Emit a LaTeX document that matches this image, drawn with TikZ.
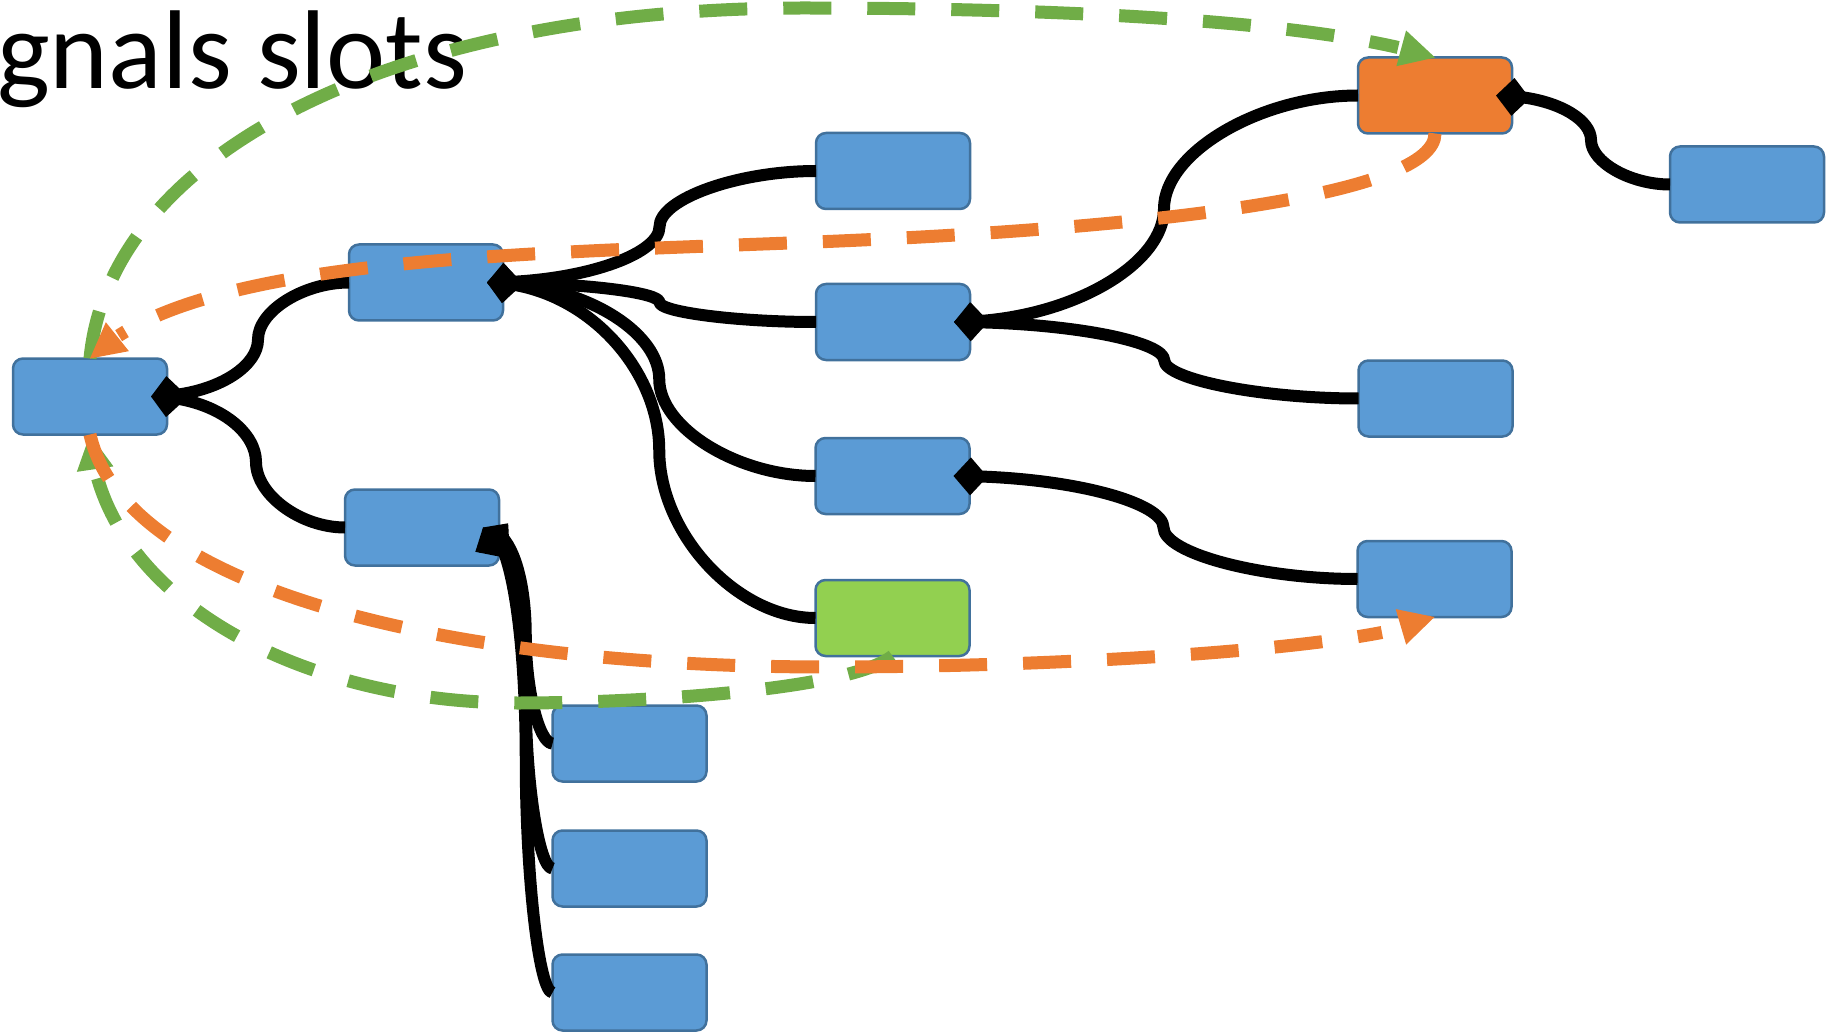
\documentclass[tikz,border=0pt]{standalone}
\usepackage{fontspec}
\setmainfont{Carlito}
\usetikzlibrary{arrows.meta,bending,calc}

\definecolor{boxblue}{RGB}{91,155,213}
\definecolor{boxedge}{RGB}{65,113,156}
\definecolor{slotorange}{RGB}{237,125,49}
\definecolor{leafgreen}{RGB}{146,208,80}
\definecolor{signalgreen}{RGB}{112,173,71}

\tikzset{
  box/.style={draw=boxedge, line width=2.5pt, rounded corners=10pt,
    minimum width=154pt, minimum height=76pt, inner sep=0pt, outer sep=0pt,
    fill=boxblue},
  slotbox/.style={box, fill=slotorange},
  leafbox/.style={box, fill=leafgreen},
  % parent-to-child link with a diamond centred on the parent's edge
  link/.style={line width=12pt, line join=round,
    {Diamond[length=34pt,width=38pt,line width=0pt]}-},
  % S-shaped elbow measured from the parent's edge (16pt right of the start):
  % horizontal out, vertical in the middle, horizontal in
  elbow/.style={to path={let \p1=($(\tikztostart)+(16pt,0)$), \p2=(\tikztotarget) in
     .. controls ({\x1+0.25*(\x2-\x1)},\y1) and ({0.5*(\x1+\x2)},{\y1+0.25*(\y2-\y1)})
     .. ({0.5*(\x1+\x2)},{0.5*(\y1+\y2)})
     .. controls ({0.5*(\x1+\x2)},{\y1+0.75*(\y2-\y1)}) and ({\x1+0.75*(\x2-\x1)},\y2)
     .. (\tikztotarget)}},
  flow/.style={line width=13pt, dash pattern=on 48pt off 36pt,
    -{Triangle[length=35pt,width=37pt,line width=0pt]}},
  signal/.style={flow, draw=signalgreen},
  slot/.style={flow, draw=slotorange},
}

\begin{document}
\begin{tikzpicture}[x=1pt,y=-1pt]
\useasboundingbox (0,0) rectangle (1826,1032);

% heading
\node[anchor=base west, inner sep=0pt, font=\fontsize{112}{130}\selectfont]
  (title) at (-3,89) {gnals slots};

% objects
\node[box]      (A)  at (90,396.5)   {};
\node[box]      (B)  at (426,282.5)  {};
\node[box]      (C)  at (422,527.5)  {};
\node[box]      (D1) at (893,171)    {};
\node[box]      (D2) at (893,322)    {};
\node[box]      (D3) at (892.5,476)  {};
\node[leafbox]  (G)  at (892.5,618)  {};
\node[slotbox]  (E)  at (1435,95.5)  {};
\node[box]      (F)  at (1747,184.5) {};
\node[box]      (H1) at (1435.5,398.5) {};
\node[box]      (H2) at (1434.5,579) {};
\node[box]      (K1) at (629.5,743.5) {};
\node[box]      (K2) at (629.5,868.5) {};
\node[box]      (K3) at (629.5,992.5) {};

% ownership tree
\draw[link] ([xshift=-16pt]A.east) to[elbow] (B.west);
\draw[link] ([xshift=-16pt]A.east) to[elbow] (C.west);
\draw[link] ([xshift=-16pt]B.east) to[elbow] (D1.west);
\draw[link] ([xshift=-16pt]B.east) to[elbow] (D2.west);
\draw[link] ([xshift=-16pt]B.east) to[elbow] (D3.west);
\draw[link] ([xshift=-16pt]B.east) to[elbow] (G.west);
\draw[link] ([xshift=-16pt]D2.east) to[elbow] (E.west);
\draw[link] ([xshift=-16pt]D2.east) to[elbow] (H1.west);
\draw[link] ([xshift=-16pt]D3.east) to[elbow] (H2.west);
\draw[link] ([xshift=-16pt]E.east) to[elbow] (F.west);
\draw[link] ([xshift=-16pt]C.east) to[elbow] (K1.west);
\draw[link] ([xshift=-16pt]C.east) to[elbow] (K2.west);
\draw[link] ([xshift=-16pt]C.east) to[elbow] (K3.west);

% signal routes
\coordinate (gtop) at (803,8);
\coordinate (gbot) at (518,703);
\draw[signal] (A.north) .. controls (110,150) and (400,8) .. (gtop)
  .. controls (1050,8) and (1320,20) .. (E.north);
\draw[signal] (G.south) .. controls (850,690) and (640,703) .. (gbot)
  .. controls (298,703) and (100,596) .. (A.south);

% slot routes
\coordinate (otop) at (815,242);
\coordinate (obot) at (827,667);
\draw[slot] (E.south) .. controls (1435,194) and (1165,228) .. (otop)
  .. controls (515,254) and (190,257) .. (A.north);
\draw[slot] (A.south) .. controls (125,590) and (450,667) .. (obot)
  .. controls (1077,667) and (1382,647) .. (H2.south);
\end{tikzpicture}
\end{document}
